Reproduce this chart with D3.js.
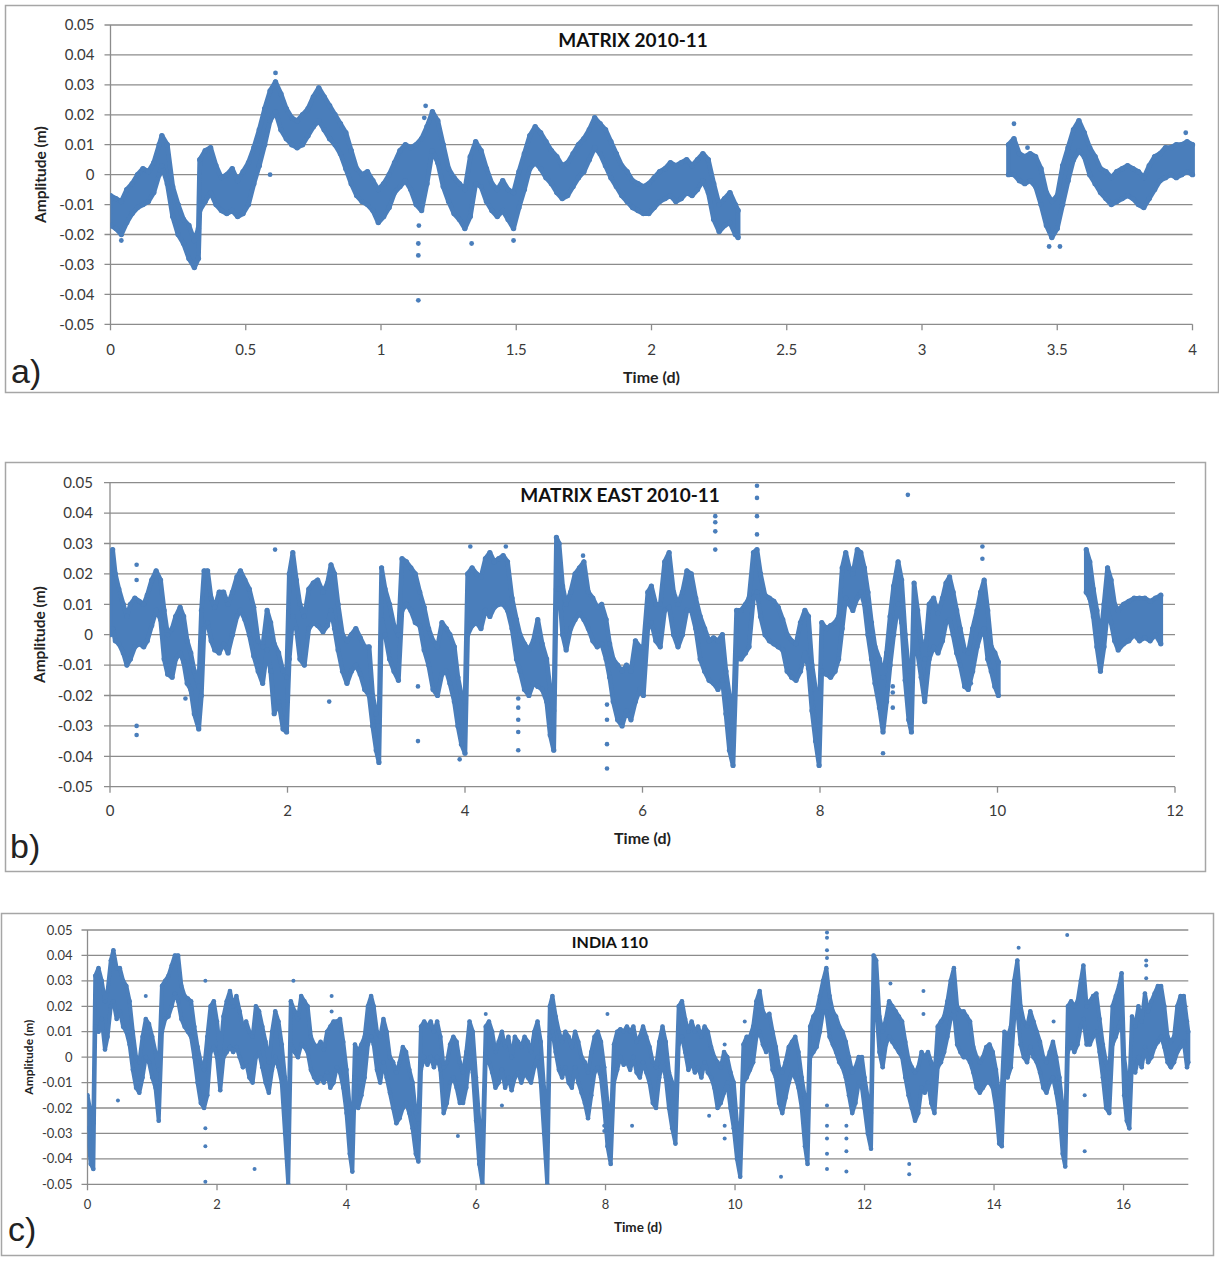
<!DOCTYPE html>
<html><head><meta charset="utf-8">
<script src="https://cdn.jsdelivr.net/npm/d3@7"></script>
<style>body{margin:0;background:#fff} svg{display:block}</style>
</head><body>
<svg id="chart" width="1219" height="1263"></svg>
<script>
// ---------------- DATA ----------------
// y tick values and labels shared by all three panels
const yTickValues = [-0.05,-0.04,-0.03,-0.02,-0.01,0,0.01,0.02,0.03,0.04,0.05];
const yTickLabels = ["-0.05","-0.04","-0.03","-0.02","-0.01","0","0.01","0.02","0.03","0.04","0.05"];

const xTicksA = [0,0.5,1,1.5,2,2.5,3,3.5,4];
const xTickLabelsA = ["0","0.5","1","1.5","2","2.5","3","3.5","4"];
const xTicksB = [0,2,4,6,8,10,12];
const xTickLabelsB = ["0","2","4","6","8","10","12"];
const xTicksC = [0,2,4,6,8,10,12,14,16];
const xTickLabelsC = ["0","2","4","6","8","10","12","14","16"];

const titles = ["MATRIX 2010-11","MATRIX EAST 2010-11","INDIA 110"];
const panelLetters = ["a)","b)","c)"];

// [time (d), lower edge of point cloud (m), upper edge of point cloud (m)]
const bandA = [[0,-0.017,-0.007],[0.02,-0.018,-0.008],[0.04,-0.020,-0.009],[0.06,-0.016,-0.005],[0.08,-0.013,-0.003],[0.10,-0.011,0.000],[0.12,-0.010,0.002],[0.14,-0.009,0.001],[0.16,-0.006,0.004],[0.18,0.000,0.010],[0.19,0.003,0.013],[0.21,-0.003,0.010],[0.23,-0.014,-0.004],[0.25,-0.020,-0.010],[0.27,-0.023,-0.015],[0.29,-0.028,-0.017],[0.31,-0.031,-0.022],[0.325,-0.028,-0.018],[0.33,-0.012,0.005],[0.35,-0.009,0.008],[0.37,-0.006,0.009],[0.39,-0.010,0.003],[0.41,-0.012,-0.001],[0.43,-0.013,0.000],[0.45,-0.012,0.002],[0.47,-0.014,-0.002],[0.49,-0.013,0.001],[0.51,-0.010,0.004],[0.53,-0.003,0.009],[0.55,0.003,0.015],[0.57,0.010,0.022],[0.59,0.018,0.028],[0.61,0.021,0.031],[0.63,0.015,0.027],[0.65,0.012,0.022],[0.67,0.010,0.019],[0.69,0.009,0.018],[0.71,0.010,0.020],[0.73,0.013,0.022],[0.75,0.016,0.026],[0.77,0.018,0.029],[0.79,0.015,0.026],[0.81,0.012,0.023],[0.83,0.010,0.020],[0.85,0.007,0.017],[0.87,0.002,0.014],[0.89,-0.003,0.008],[0.91,-0.007,0.002],[0.93,-0.009,0.000],[0.95,-0.010,0.001],[0.97,-0.012,-0.002],[0.99,-0.016,-0.005],[1.01,-0.014,-0.003],[1.03,-0.011,0.000],[1.05,-0.006,0.004],[1.07,-0.004,0.008],[1.09,-0.002,0.010],[1.11,-0.005,0.009],[1.13,-0.010,0.010],[1.15,-0.012,0.012],[1.17,-0.003,0.016],[1.19,0.008,0.021],[1.21,0.004,0.018],[1.23,-0.004,0.010],[1.25,-0.009,0.002],[1.27,-0.013,-0.001],[1.29,-0.015,-0.003],[1.31,-0.018,-0.005],[1.33,-0.014,0.006],[1.35,-0.003,0.011],[1.37,-0.004,0.008],[1.39,-0.009,0.002],[1.41,-0.012,-0.003],[1.43,-0.014,-0.005],[1.45,-0.012,-0.002],[1.47,-0.015,-0.005],[1.49,-0.018,-0.006],[1.51,-0.011,0.001],[1.53,-0.005,0.007],[1.55,0.002,0.013],[1.57,0.004,0.016],[1.59,0.002,0.014],[1.61,-0.001,0.011],[1.63,-0.003,0.008],[1.65,-0.006,0.006],[1.67,-0.008,0.003],[1.69,-0.007,0.004],[1.71,-0.004,0.007],[1.73,-0.001,0.010],[1.75,0.001,0.012],[1.77,0.005,0.015],[1.79,0.009,0.019],[1.81,0.007,0.017],[1.83,0.003,0.015],[1.85,-0.001,0.011],[1.87,-0.004,0.007],[1.89,-0.007,0.003],[1.91,-0.009,0.001],[1.93,-0.011,-0.002],[1.95,-0.012,-0.003],[1.97,-0.013,-0.004],[1.99,-0.013,-0.003],[2.01,-0.011,-0.001],[2.03,-0.009,0.001],[2.05,-0.008,0.002],[2.07,-0.007,0.004],[2.09,-0.009,0.003],[2.11,-0.008,0.004],[2.13,-0.006,0.005],[2.15,-0.007,0.003],[2.17,-0.005,0.005],[2.19,-0.002,0.007],[2.21,-0.006,0.005],[2.23,-0.015,-0.003],[2.25,-0.019,-0.010],[2.27,-0.017,-0.008],[2.29,-0.016,-0.006],[2.31,-0.020,-0.010],[2.32,-0.021,-0.012],
[3.32,0.000,0.010],[3.34,0.000,0.012],[3.36,-0.002,0.007],[3.38,-0.003,0.006],[3.40,-0.002,0.007],[3.42,-0.004,0.006],[3.44,-0.010,0.002],[3.46,-0.017,-0.006],[3.48,-0.021,-0.009],[3.50,-0.018,-0.007],[3.52,-0.010,0.003],[3.54,-0.002,0.009],[3.56,0.005,0.015],[3.58,0.008,0.018],[3.60,0.006,0.014],[3.62,0.000,0.009],[3.64,-0.003,0.006],[3.66,-0.006,0.002],[3.68,-0.008,0.001],[3.70,-0.010,-0.001],[3.72,-0.009,0.001],[3.74,-0.008,0.002],[3.76,-0.007,0.003],[3.78,-0.008,0.002],[3.80,-0.010,0.001],[3.82,-0.011,-0.001],[3.84,-0.008,0.003],[3.86,-0.005,0.006],[3.88,-0.002,0.007],[3.90,-0.001,0.009],[3.92,0.000,0.009],[3.94,-0.001,0.010],[3.96,0.000,0.010],[3.98,0.001,0.011],[4.00,0.000,0.010]];

// isolated points [time, value]
const outliersA = [[1.138,-0.042],[1.138,-0.027],[1.138,-0.023],[1.14,-0.017],[1.165,0.023],[1.16,0.019],[0.59,0.000],[3.47,-0.024],[3.51,-0.024],[3.34,0.017],[0.04,-0.022],[0.61,0.034],[1.335,-0.023],[1.49,-0.022],[3.39,0.009],[3.975,0.014]];

const bandB = [[0.00,0.000,0.022],[0.03,0.002,0.028],[0.06,-0.002,0.020],[0.10,-0.003,0.015],[0.15,-0.006,0.010],[0.19,-0.010,0.006],[0.23,-0.008,0.010],[0.28,-0.004,0.012],[0.33,-0.003,0.011],[0.38,-0.004,0.010],[0.42,-0.002,0.013],[0.47,0.003,0.018],[0.52,0.008,0.021],[0.57,0.005,0.018],[0.61,-0.008,0.008],[0.65,-0.013,0.000],[0.70,-0.014,0.002],[0.74,-0.008,0.006],[0.79,-0.006,0.009],[0.83,-0.009,0.006],[0.87,-0.016,-0.002],[0.91,-0.018,-0.006],[0.95,-0.026,-0.012],[1.00,-0.031,-0.017],[1.03,-0.020,0.008],[1.06,0.002,0.021],[1.10,0.004,0.021],[1.14,-0.002,0.012],[1.18,-0.005,0.009],[1.23,-0.006,0.014],[1.28,-0.003,0.014],[1.33,-0.006,0.010],[1.38,0.000,0.014],[1.43,0.006,0.019],[1.47,0.008,0.021],[1.52,0.005,0.018],[1.57,0.000,0.015],[1.62,-0.007,0.009],[1.67,-0.012,-0.002],[1.72,-0.016,-0.004],[1.77,-0.005,0.008],[1.81,-0.012,0.004],[1.85,-0.026,-0.003],[1.90,-0.022,-0.006],[1.95,-0.031,-0.012],[1.99,-0.032,-0.014],[2.02,-0.008,0.020],[2.06,0.006,0.027],[2.10,0.002,0.018],[2.14,-0.008,0.010],[2.19,-0.010,0.006],[2.24,0.002,0.015],[2.29,0.004,0.017],[2.34,0.003,0.018],[2.40,0.001,0.014],[2.45,0.003,0.017],[2.49,0.008,0.023],[2.53,0.002,0.020],[2.57,-0.005,0.010],[2.62,-0.012,0.000],[2.67,-0.016,-0.002],[2.72,-0.012,0.000],[2.77,-0.010,0.002],[2.82,-0.013,-0.001],[2.87,-0.018,-0.004],[2.92,-0.020,-0.004],[2.96,-0.030,-0.020],[3.00,-0.038,-0.026],[3.03,-0.042,-0.030],[3.06,0.005,0.022],[3.10,0.000,0.015],[3.15,-0.008,0.010],[3.20,-0.012,0.003],[3.25,-0.015,0.000],[3.29,0.008,0.025],[3.34,0.010,0.024],[3.39,0.008,0.022],[3.44,0.004,0.020],[3.49,0.003,0.014],[3.54,-0.005,0.009],[3.59,-0.010,0.002],[3.64,-0.018,-0.002],[3.69,-0.020,-0.004],[3.74,-0.013,0.004],[3.79,-0.012,0.002],[3.83,-0.016,0.000],[3.88,-0.022,-0.004],[3.92,-0.030,-0.014],[3.96,-0.036,-0.020],[4.00,-0.039,-0.022],[4.03,0.000,0.020],[4.08,0.003,0.022],[4.13,0.004,0.020],[4.18,0.002,0.019],[4.23,0.008,0.025],[4.28,0.006,0.027],[4.33,0.009,0.024],[4.38,0.010,0.025],[4.43,0.010,0.026],[4.48,0.008,0.024],[4.53,0.002,0.012],[4.58,-0.008,0.005],[4.62,-0.012,0.000],[4.67,-0.018,-0.003],[4.72,-0.020,-0.005],[4.77,-0.016,-0.002],[4.82,-0.017,0.005],[4.87,-0.018,-0.003],[4.92,-0.022,-0.008],[4.96,-0.033,-0.018],[5.00,-0.038,-0.025],[5.03,0.015,0.032],[5.06,0.015,0.030],[5.10,0.000,0.016],[5.14,-0.005,0.010],[5.19,0.002,0.014],[5.24,0.005,0.020],[5.29,0.007,0.022],[5.34,0.005,0.024],[5.39,0.002,0.014],[5.44,-0.002,0.012],[5.49,-0.004,0.009],[5.54,-0.003,0.010],[5.59,-0.008,0.005],[5.63,-0.014,-0.003],[5.67,-0.022,-0.008],[5.72,-0.028,-0.010],[5.77,-0.030,-0.012],[5.82,-0.025,-0.010],[5.87,-0.028,-0.012],[5.92,-0.022,-0.002],[5.97,-0.018,-0.004],[6.01,-0.020,-0.004],[6.06,0.002,0.014],[6.10,0.004,0.016],[6.15,-0.002,0.010],[6.20,-0.004,0.010],[6.25,0.008,0.024],[6.30,0.009,0.027],[6.35,0.000,0.014],[6.40,-0.004,0.010],[6.45,0.000,0.014],[6.50,0.008,0.021],[6.55,0.008,0.020],[6.60,0.002,0.012],[6.65,-0.008,0.006],[6.70,-0.012,0.002],[6.75,-0.015,-0.002],[6.80,-0.016,-0.001],[6.85,-0.018,-0.002],[6.90,-0.015,0.000],[6.94,-0.026,-0.012],[6.98,-0.038,-0.020],[7.02,-0.043,-0.030],[7.06,-0.008,0.008],[7.11,-0.008,0.008],[7.16,-0.006,0.010],[7.20,-0.004,0.012],[7.25,0.012,0.027],[7.29,0.014,0.028],[7.33,0.006,0.020],[7.38,0.000,0.013],[7.43,-0.002,0.012],[7.48,-0.003,0.011],[7.53,-0.004,0.009],[7.58,-0.005,0.005],[7.63,-0.012,0.000],[7.68,-0.014,-0.002],[7.73,-0.015,-0.003],[7.78,-0.012,0.004],[7.83,-0.006,0.008],[7.87,-0.011,0.006],[7.91,-0.025,-0.010],[7.95,-0.035,-0.018],[7.99,-0.043,-0.028],[8.02,-0.012,0.004],[8.07,-0.013,0.002],[8.12,-0.014,0.003],[8.17,-0.012,0.004],[8.21,-0.008,0.006],[8.25,0.002,0.022],[8.29,0.012,0.027],[8.33,0.010,0.022],[8.37,0.008,0.020],[8.42,0.012,0.028],[8.46,0.014,0.027],[8.50,0.010,0.022],[8.54,0.000,0.014],[8.58,-0.008,0.004],[8.62,-0.016,-0.004],[8.67,-0.024,-0.008],[8.71,-0.032,-0.014],[8.75,-0.022,-0.006],[8.79,-0.010,0.006],[8.83,0.000,0.016],[8.88,0.010,0.024],[8.92,0.004,0.018],[8.96,-0.015,0.000],[9.00,-0.028,-0.012],[9.03,-0.032,-0.018],[9.06,0.002,0.017],[9.10,-0.006,0.008],[9.14,-0.014,-0.002],[9.18,-0.022,-0.008],[9.23,-0.008,0.010],[9.28,-0.004,0.012],[9.33,-0.006,0.007],[9.38,-0.002,0.012],[9.42,0.004,0.017],[9.46,0.005,0.019],[9.50,0.000,0.014],[9.54,-0.006,0.008],[9.58,-0.010,0.002],[9.63,-0.017,-0.005],[9.67,-0.018,-0.006],[9.72,-0.012,0.002],[9.77,-0.004,0.008],[9.81,0.000,0.014],[9.85,0.002,0.018],[9.89,-0.008,0.008],[9.93,-0.012,-0.004],[9.97,-0.017,-0.006],[10.01,-0.020,-0.009],
[11.00,0.014,0.028],[11.04,0.012,0.024],[11.08,0.006,0.015],[11.12,-0.004,0.008],[11.16,-0.012,-0.002],[11.20,-0.004,0.010],[11.24,0.008,0.022],[11.28,0.004,0.018],[11.32,-0.002,0.010],[11.36,-0.005,0.008],[11.42,-0.003,0.010],[11.48,-0.002,0.011],[11.54,0.000,0.012],[11.60,-0.002,0.012],[11.66,-0.001,0.012],[11.72,-0.002,0.011],[11.78,0.000,0.012],[11.84,-0.003,0.013]];

const outliersB = [[0.30,0.023],[0.30,0.018],[0.30,-0.030],[0.30,-0.033],[1.86,0.028],[0.85,-0.021],[2.47,-0.022],[3.47,-0.017],[3.47,-0.035],[3.94,-0.041],[4.06,0.029],[4.46,0.029],[4.60,-0.021],[4.60,-0.024],[4.60,-0.028],[4.60,-0.032],[4.60,-0.038],[5.60,-0.023],[5.60,-0.028],[5.60,-0.036],[5.60,-0.044],[5.33,0.026],[6.82,0.039],[6.82,0.037],[6.82,0.034],[6.82,0.028],[7.29,0.049],[7.29,0.045],[7.29,0.039],[7.29,0.033],[8.99,0.046],[8.71,-0.039],[8.82,-0.017],[8.82,-0.019],[8.82,-0.024],[9.83,0.029],[9.83,0.025],[9.70,-0.016]];

const bandC = [[0.00,-0.028,-0.015],[0.05,-0.042,-0.022],[0.09,-0.044,-0.026],[0.12,0.012,0.032],[0.17,0.010,0.035],[0.22,0.015,0.030],[0.27,0.003,0.022],[0.31,0.008,0.026],[0.36,0.020,0.038],[0.40,0.022,0.042],[0.45,0.015,0.035],[0.50,0.018,0.035],[0.55,0.012,0.030],[0.60,0.010,0.028],[0.65,0.005,0.022],[0.70,-0.005,0.010],[0.75,-0.012,0.000],[0.80,-0.014,-0.002],[0.85,-0.008,0.008],[0.90,0.000,0.015],[0.95,-0.002,0.013],[1.00,-0.008,0.008],[1.05,-0.012,0.002],[1.10,-0.025,-0.005],[1.15,0.010,0.028],[1.20,0.015,0.030],[1.25,0.016,0.032],[1.30,0.020,0.036],[1.35,0.025,0.040],[1.40,0.022,0.040],[1.45,0.015,0.028],[1.50,0.012,0.024],[1.55,0.010,0.023],[1.60,0.008,0.022],[1.65,0.000,0.012],[1.70,-0.010,0.004],[1.75,-0.018,-0.002],[1.80,-0.020,-0.005],[1.85,-0.015,0.008],[1.90,0.002,0.020],[1.95,0.004,0.022],[2.00,0.000,0.014],[2.05,-0.013,0.002],[2.10,0.000,0.016],[2.15,0.002,0.022],[2.20,0.004,0.026],[2.25,0.002,0.020],[2.30,0.004,0.024],[2.35,0.000,0.018],[2.40,-0.004,0.012],[2.45,-0.002,0.014],[2.50,-0.008,0.010],[2.55,-0.010,0.008],[2.60,0.000,0.020],[2.65,0.002,0.018],[2.70,-0.004,0.012],[2.75,-0.010,0.006],[2.80,-0.014,-0.002],[2.85,-0.005,0.010],[2.90,0.000,0.018],[2.95,-0.004,0.014],[3.00,-0.010,0.005],[3.05,-0.030,-0.008],[3.10,-0.050,-0.030],[3.14,0.005,0.022],[3.20,0.002,0.018],[3.25,0.000,0.015],[3.30,0.005,0.024],[3.35,0.004,0.022],[3.40,0.002,0.020],[3.45,-0.005,0.008],[3.50,-0.008,0.005],[3.55,-0.010,0.004],[3.60,-0.008,0.006],[3.65,-0.010,0.003],[3.70,-0.006,0.010],[3.75,-0.012,0.012],[3.80,-0.010,0.014],[3.85,-0.004,0.014],[3.90,-0.006,0.015],[3.95,-0.012,0.006],[4.00,-0.022,-0.005],[4.05,-0.038,-0.020],[4.09,-0.045,-0.030],[4.13,-0.008,0.005],[4.18,-0.020,0.002],[4.23,-0.015,0.005],[4.28,-0.008,0.008],[4.33,0.005,0.020],[4.38,0.008,0.024],[4.42,0.005,0.020],[4.47,-0.005,0.010],[4.52,-0.010,0.008],[4.57,-0.002,0.015],[4.62,-0.008,0.010],[4.67,-0.014,0.000],[4.72,-0.020,-0.002],[4.77,-0.026,-0.006],[4.82,-0.024,-0.002],[4.87,-0.020,0.004],[4.92,-0.018,0.002],[4.97,-0.022,-0.005],[5.02,-0.028,-0.010],[5.07,-0.038,-0.022],[5.11,-0.041,-0.026],[5.15,-0.005,0.012],[5.20,0.000,0.014],[5.25,-0.003,0.012],[5.30,0.000,0.014],[5.35,-0.004,0.010],[5.40,0.000,0.014],[5.45,-0.005,0.008],[5.50,-0.022,-0.004],[5.55,-0.018,-0.002],[5.60,-0.010,0.005],[5.65,-0.008,0.008],[5.70,-0.012,0.006],[5.75,-0.018,-0.002],[5.80,-0.018,-0.006],[5.85,-0.012,0.002],[5.90,0.000,0.014],[5.95,-0.006,0.010],[6.00,-0.025,-0.008],[6.05,-0.042,-0.025],[6.10,-0.050,-0.035],[6.15,0.000,0.012],[6.20,-0.002,0.014],[6.25,-0.006,0.010],[6.30,-0.012,0.002],[6.35,-0.010,0.006],[6.40,-0.005,0.010],[6.45,-0.012,0.004],[6.50,-0.008,0.008],[6.55,-0.013,0.000],[6.60,-0.008,0.008],[6.65,-0.006,0.006],[6.70,-0.010,0.004],[6.75,-0.006,0.008],[6.80,-0.008,0.006],[6.85,-0.010,0.002],[6.90,-0.004,0.010],[6.95,0.000,0.014],[7.00,-0.010,0.006],[7.05,-0.030,-0.012],[7.10,-0.050,-0.030],[7.14,0.008,0.020],[7.18,0.010,0.024],[7.23,0.002,0.016],[7.28,-0.005,0.010],[7.33,-0.008,0.006],[7.38,-0.004,0.010],[7.43,-0.010,0.008],[7.48,-0.012,0.004],[7.53,-0.004,0.010],[7.58,-0.010,0.006],[7.63,-0.014,0.000],[7.68,-0.018,-0.002],[7.73,-0.024,-0.006],[7.78,-0.015,0.002],[7.83,-0.006,0.008],[7.88,-0.004,0.010],[7.93,-0.008,0.006],[7.98,-0.020,-0.004],[8.03,-0.035,-0.018],[8.08,-0.042,-0.028],[8.13,-0.010,0.005],[8.18,-0.005,0.010],[8.23,0.000,0.011],[8.28,-0.003,0.010],[8.33,-0.002,0.012],[8.38,-0.005,0.010],[8.43,0.000,0.012],[8.48,-0.006,0.006],[8.53,-0.008,0.008],[8.58,-0.002,0.012],[8.63,-0.006,0.008],[8.68,-0.010,0.004],[8.73,-0.018,-0.002],[8.78,-0.020,-0.004],[8.83,-0.008,0.006],[8.88,-0.002,0.012],[8.93,-0.008,0.006],[8.98,-0.020,-0.006],[9.03,-0.028,-0.010],[9.08,-0.034,-0.018],[9.13,0.005,0.020],[9.18,0.008,0.022],[9.23,0.002,0.015],[9.28,-0.005,0.010],[9.33,-0.002,0.014],[9.38,-0.006,0.010],[9.43,-0.004,0.012],[9.48,-0.008,0.008],[9.53,-0.002,0.012],[9.58,-0.006,0.010],[9.63,-0.008,0.004],[9.68,-0.012,0.000],[9.73,-0.020,-0.002],[9.78,-0.018,-0.004],[9.83,-0.014,0.002],[9.88,-0.010,0.000],[9.93,-0.020,-0.006],[9.98,-0.028,-0.010],[10.03,-0.040,-0.026],[10.08,-0.047,-0.034],[10.13,-0.010,0.005],[10.18,-0.008,0.008],[10.23,-0.005,0.008],[10.28,-0.002,0.012],[10.33,0.008,0.022],[10.38,0.010,0.026],[10.43,0.005,0.018],[10.48,0.002,0.016],[10.53,0.005,0.017],[10.58,-0.005,0.010],[10.63,-0.008,0.004],[10.68,-0.018,-0.004],[10.73,-0.022,-0.006],[10.78,-0.016,-0.002],[10.83,-0.010,0.004],[10.88,-0.006,0.006],[10.93,-0.008,0.008],[10.98,-0.012,0.002],[11.03,-0.020,-0.008],[11.08,-0.035,-0.016],[11.12,-0.042,-0.025],[11.16,0.000,0.012],[11.21,0.002,0.016],[11.26,0.004,0.018],[11.31,0.010,0.024],[11.36,0.018,0.030],[11.41,0.018,0.035],[11.46,0.008,0.024],[11.51,0.005,0.018],[11.56,0.002,0.016],[11.61,-0.002,0.012],[11.66,-0.004,0.010],[11.71,-0.008,0.006],[11.76,-0.015,0.000],[11.81,-0.022,-0.006],[11.86,-0.018,-0.004],[11.91,-0.010,0.000],[11.96,-0.012,0.000],[12.00,-0.020,-0.008],[12.05,-0.030,-0.016],[12.10,-0.036,-0.022],[12.14,0.022,0.040],[12.18,0.020,0.038],[12.23,0.002,0.016],[12.28,-0.004,0.010],[12.33,0.005,0.015],[12.38,0.008,0.022],[12.43,0.006,0.020],[12.48,0.004,0.018],[12.53,0.002,0.016],[12.58,0.000,0.014],[12.63,-0.008,0.006],[12.68,-0.015,-0.001],[12.73,-0.020,-0.004],[12.78,-0.025,-0.006],[12.83,-0.022,-0.004],[12.88,-0.012,0.002],[12.93,-0.014,0.000],[12.98,-0.010,0.002],[13.03,-0.018,-0.002],[13.08,-0.022,-0.008],[13.13,-0.004,0.012],[13.18,-0.002,0.014],[13.23,0.002,0.016],[13.28,0.008,0.022],[13.33,0.015,0.030],[13.38,0.018,0.035],[13.43,0.005,0.020],[13.48,0.002,0.018],[13.53,0.000,0.018],[13.58,0.000,0.016],[13.63,-0.002,0.014],[13.68,-0.006,0.004],[13.73,-0.012,0.000],[13.78,-0.014,-0.002],[13.83,-0.012,0.000],[13.88,-0.010,0.004],[13.93,-0.010,0.005],[13.98,-0.012,0.002],[14.03,-0.020,-0.005],[14.08,-0.034,-0.015],[14.12,-0.035,-0.012],[14.16,-0.006,0.010],[14.21,-0.008,0.008],[14.26,-0.004,0.012],[14.31,0.015,0.030],[14.36,0.018,0.038],[14.41,0.005,0.020],[14.46,0.000,0.014],[14.51,-0.002,0.012],[14.56,0.004,0.018],[14.61,0.000,0.014],[14.66,-0.002,0.010],[14.71,-0.006,0.006],[14.76,-0.012,0.000],[14.81,-0.014,-0.002],[14.86,-0.010,0.002],[14.91,-0.008,0.006],[14.96,-0.014,0.000],[15.01,-0.022,-0.008],[15.06,-0.038,-0.020],[15.10,-0.043,-0.030],[15.14,0.002,0.020],[15.19,0.005,0.022],[15.24,0.002,0.020],[15.29,0.005,0.022],[15.34,0.012,0.030],[15.38,0.015,0.036],[15.43,0.005,0.020],[15.48,0.005,0.022],[15.53,0.008,0.024],[15.58,0.010,0.025],[15.63,0.002,0.015],[15.68,-0.008,0.005],[15.73,-0.020,-0.002],[15.78,-0.022,-0.006],[15.83,0.005,0.020],[15.88,0.008,0.024],[15.93,0.012,0.028],[15.97,0.015,0.033],[16.01,-0.015,0.000],[16.05,-0.025,-0.008],[16.09,-0.028,-0.012],[16.13,-0.002,0.016],[16.18,-0.006,0.012],[16.23,0.000,0.020],[16.28,-0.004,0.014],[16.33,0.004,0.025],[16.38,-0.002,0.018],[16.43,0.000,0.022],[16.48,0.004,0.025],[16.53,0.006,0.028],[16.58,0.008,0.028],[16.63,0.004,0.020],[16.68,-0.002,0.008],[16.73,-0.004,0.006],[16.78,-0.002,0.008],[16.83,0.002,0.020],[16.88,0.004,0.024],[16.93,0.006,0.024],[16.98,-0.004,0.014],[17.00,-0.002,0.010]];

const outliersC = [[1.82,0.030],[1.82,-0.049],[1.82,-0.035],[1.82,-0.028],[2.58,-0.044],[3.18,0.030],[0.47,-0.017],[0.90,0.024],[3.77,0.024],[3.77,0.018],[5.72,-0.031],[6.15,0.017],[8.03,0.017],[7.98,-0.027],[7.98,-0.029],[6.40,-0.019],[11.42,0.049],[11.42,0.047],[11.42,0.042],[11.42,0.039],[11.42,-0.019],[11.42,-0.027],[11.42,-0.032],[11.42,-0.038],[11.42,-0.044],[11.72,-0.027],[11.72,-0.032],[11.72,-0.037],[11.72,-0.045],[10.71,-0.047],[9.84,0.005],[9.84,-0.027],[9.84,-0.032],[9.60,-0.023],[8.41,-0.027],[10.15,0.014],[12.40,0.029],[15.13,0.048],[14.38,0.043],[16.35,0.038],[16.35,0.036],[16.35,0.031],[12.91,0.026],[12.91,0.017],[12.69,-0.042],[12.69,-0.046],[15.40,-0.015],[15.40,-0.037],[14.92,0.014]];

// ---------------- LAYOUT ----------------
const FONT = "Lato, 'Open Sans', 'DejaVu Sans', sans-serif";
const BLUE = "#4a7ebb";
const GRID = "#8c8c8c";

const panels = [
  {box:[5,5,1213,387], px:[110.5,1192.5], py:[25,324.3], xd:[0,4], xt:xTicksA, xl:xTickLabelsA,
   band:bandA, out:outliersA, title:titles[0], letter:panelLetters[0], titleX:633,
   tickFs:15, titleFs:19, axFs:16, yAxFs:15.5, titleY:40, xLabOff:25, xTitleY:377, yTitleX:41, yLabGap:16, r:2.4,
   letterPos:[11,383]},
  {box:[5,462,1200,409], px:[110,1175], py:[482.7,786.7], xd:[0,12], xt:xTicksB, xl:xTickLabelsB,
   band:bandB, out:outliersB, title:titles[1], letter:panelLetters[1], titleX:620,
   tickFs:15, titleFs:19, axFs:16, yAxFs:15.5, titleY:495, xLabOff:24, xTitleY:838, yTitleX:40, yLabGap:17, r:2.3,
   letterPos:[10,858]},
  {box:[1,913,1212,342], px:[87.5,1188.3], py:[930,1184.3], xd:[0,17], xt:xTicksC, xl:xTickLabelsC,
   band:bandC, out:outliersC, title:titles[2], letter:panelLetters[2], titleX:610,
   tickFs:13, titleFs:16, axFs:13.5, yAxFs:12, titleY:942, xLabOff:20, xTitleY:1227, yTitleX:29, yLabGap:15, r:2.0,
   letterPos:[8,1241]}
];

const svg = d3.select("#chart");

panels.forEach((p, pi) => {
  const x = d3.scaleLinear().domain(p.xd).range(p.px);
  const y = d3.scaleLinear().domain([-0.05,0.05]).range([p.py[1], p.py[0]]);
  const g = svg.append("g");

  // frame
  g.append("rect").attr("x",p.box[0]+0.5).attr("y",p.box[1]+0.5)
    .attr("width",p.box[2]).attr("height",p.box[3])
    .attr("fill","none").attr("stroke","#a6a6a6").attr("stroke-width",1.5);

  // horizontal gridlines (extend left as tick marks)
  g.selectAll("line.grid").data(yTickValues).enter().append("line")
    .attr("x1",p.px[0]-6).attr("x2",p.px[1])
    .attr("y1",d=>y(d)).attr("y2",d=>y(d))
    .attr("stroke",GRID).attr("stroke-width",1.3);
  // y axis line
  g.append("line").attr("x1",p.px[0]).attr("x2",p.px[0]).attr("y1",p.py[0]).attr("y2",p.py[1])
    .attr("stroke",GRID).attr("stroke-width",1.3);
  // x ticks
  g.selectAll("line.xt").data(p.xt).enter().append("line")
    .attr("x1",d=>x(d)).attr("x2",d=>x(d)).attr("y1",p.py[1]).attr("y2",p.py[1]+6)
    .attr("stroke",GRID).attr("stroke-width",1.3);

  // y tick labels
  g.selectAll("text.yl").data(yTickValues).enter().append("text")
    .attr("x",p.px[0]-p.yLabGap).attr("y",d=>y(d)).attr("dy","0.35em")
    .attr("text-anchor","end").attr("font-family",FONT).attr("font-size",p.tickFs)
    .attr("fill","#3a3a3a").text((d,i)=>yTickLabels[i]);
  // x tick labels
  g.selectAll("text.xl").data(p.xt).enter().append("text")
    .attr("x",d=>x(d)).attr("y",p.py[1]+p.xLabOff).attr("dy","0.35em")
    .attr("text-anchor","middle").attr("font-family",FONT).attr("font-size",p.tickFs)
    .attr("fill","#3a3a3a").text((d,i)=>p.xl[i]);

  // titles
  g.append("text").attr("x",p.titleX).attr("y",p.titleY).attr("dy","0.35em")
    .attr("text-anchor","middle").attr("font-family",FONT).attr("font-weight","bold")
    .attr("font-size",p.titleFs).attr("fill","#111").text(p.title);
  g.append("text").attr("x",(p.px[0]+p.px[1])/2).attr("y",p.xTitleY).attr("dy","0.35em")
    .attr("text-anchor","middle").attr("font-family",FONT).attr("font-weight","bold")
    .attr("font-size",p.axFs).attr("fill","#222").text("Time (d)");
  g.append("text").attr("transform",`translate(${p.yTitleX},${(p.py[0]+p.py[1])/2}) rotate(-90)`)
    .attr("dy","0.35em").attr("text-anchor","middle").attr("font-family",FONT).attr("font-weight","bold")
    .attr("font-size",p.yAxFs).attr("fill","#222").text("Amplitude (m)");
  g.append("text").attr("x",p.letterPos[0]).attr("y",p.letterPos[1])
    .attr("font-family","'Liberation Sans', Arial, sans-serif").attr("font-size",34).attr("fill","#222").text(p.letter);

  // data
  const clipId = "clip"+pi;
  svg.append("clipPath").attr("id",clipId).append("rect")
    .attr("x",p.px[0]).attr("y",p.py[0]-4).attr("width",p.px[1]-p.px[0]+4).attr("height",p.py[1]-p.py[0]+4);
  const dg = g.append("g").attr("clip-path",`url(#${clipId})`);

  // split band into continuous segments (gaps in the record)
  const segs = [];
  let cur = [];
  p.band.forEach((d,i) => {
    if (i>0 && d[0]-p.band[i-1][0] > 0.3) { segs.push(cur); cur = []; }
    cur.push(d);
  });
  segs.push(cur);

  const area = d3.area().x(d=>x(d[0])).y0(d=>y(d[1])).y1(d=>y(d[2]));
  segs.forEach(s => {
    dg.append("path").datum(s).attr("d",area).attr("fill",BLUE)
      .attr("stroke",BLUE).attr("stroke-width",p.r*2).attr("stroke-linejoin","round");
  });
  // edge points
  dg.selectAll("circle.lo").data(p.band).enter().append("circle")
    .attr("cx",d=>x(d[0])).attr("cy",d=>y(d[1])).attr("r",p.r+0.3).attr("fill",BLUE);
  dg.selectAll("circle.hi").data(p.band).enter().append("circle")
    .attr("cx",d=>x(d[0])).attr("cy",d=>y(d[2])).attr("r",p.r+0.3).attr("fill",BLUE);
  // isolated points
  dg.selectAll("circle.out").data(p.out).enter().append("circle")
    .attr("cx",d=>x(d[0])).attr("cy",d=>y(d[1])).attr("r",p.r).attr("fill",BLUE);
});
</script>
</body></html>
